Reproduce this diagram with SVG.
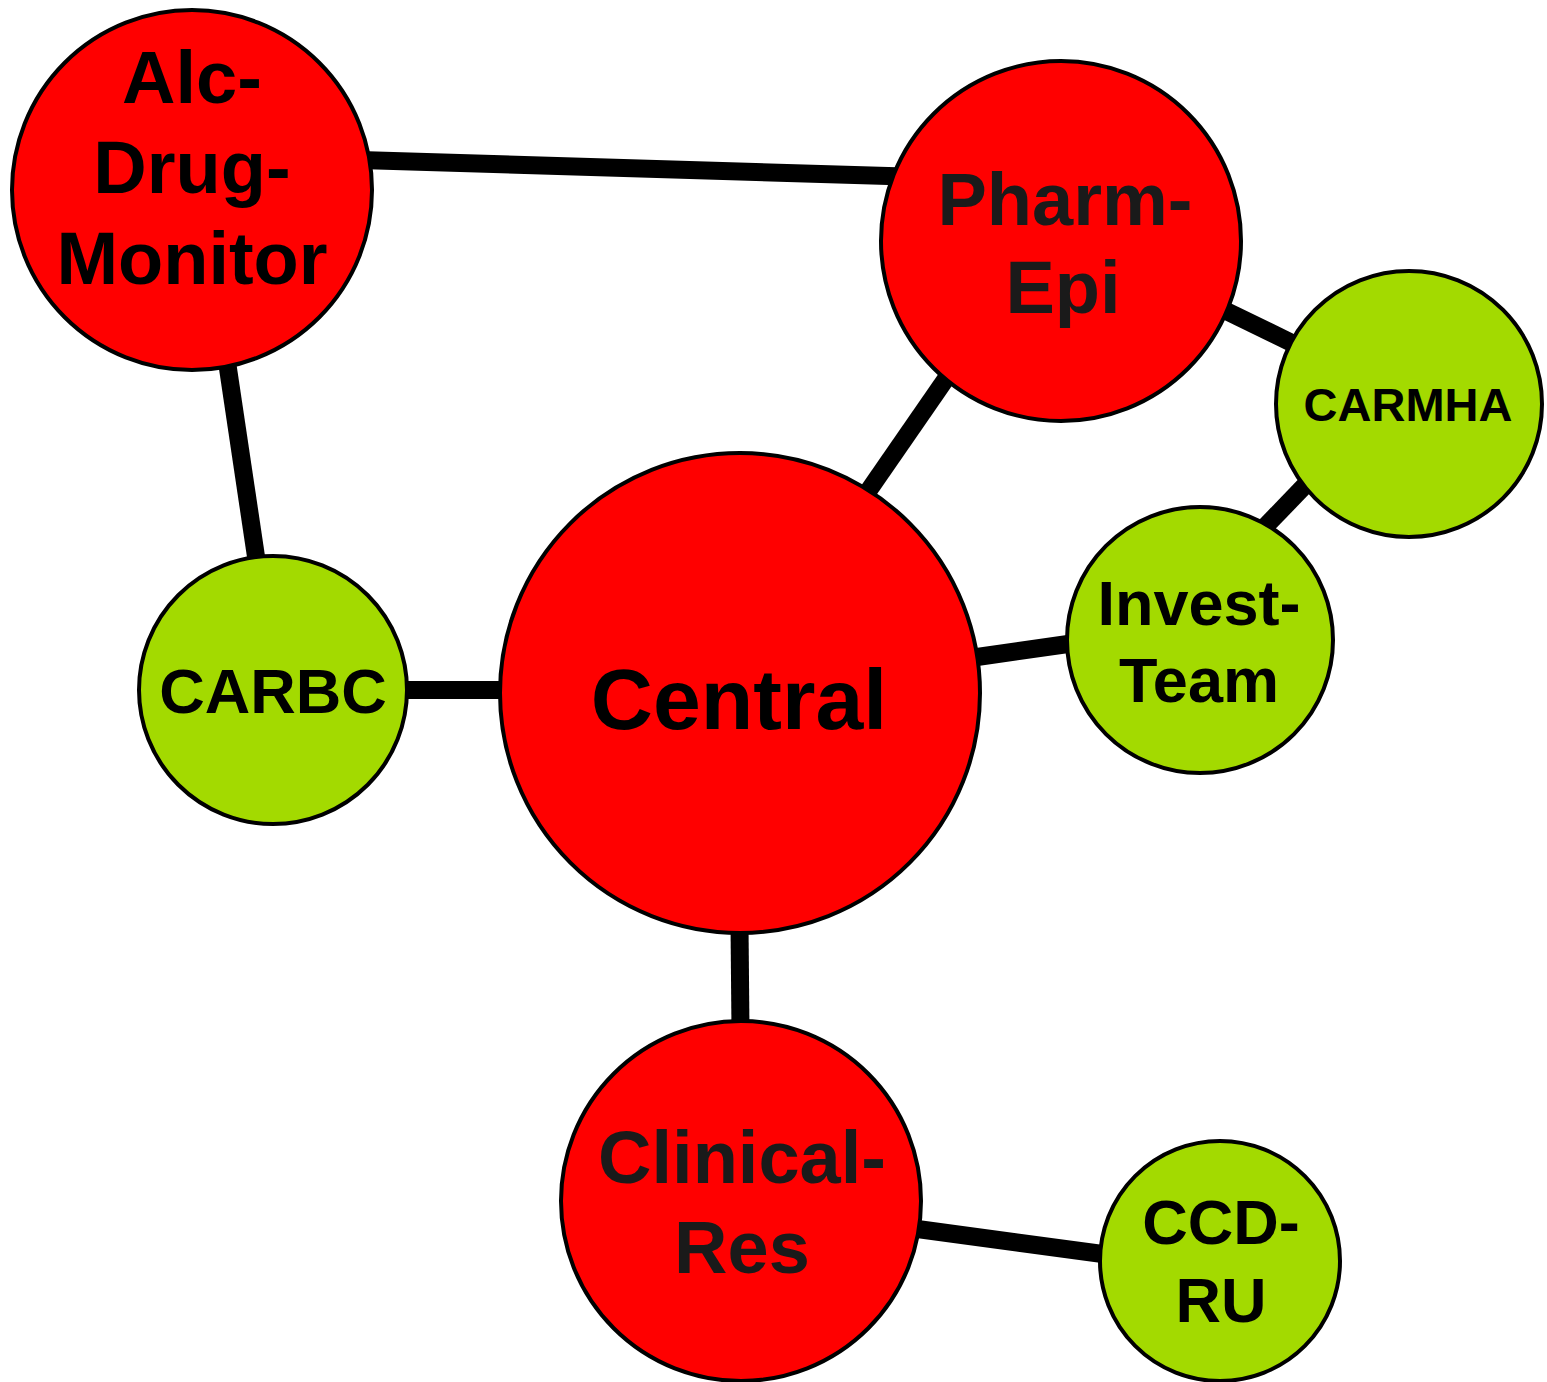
<svg xmlns="http://www.w3.org/2000/svg" width="1547" height="1382" viewBox="0 0 1547 1382">
<style>
.edge{stroke:#000;stroke-width:18;fill:none}
.red{fill:#ff0000;stroke:#000;stroke-width:4}
.green{fill:#a3da00;stroke:#000;stroke-width:4}
text{font-family:"Liberation Sans",Arial,sans-serif;font-weight:bold;text-anchor:middle}
.big{font-size:74px}
.blk{fill:#000}
.gry{fill:#1a1a1a}
.sm{font-size:63px;fill:#000}
</style>
<rect width="1547" height="1382" fill="#fff"/>
<g id="connectors">
<line class="edge" x1="360" y1="160" x2="905" y2="176.5"/>
<line class="edge" x1="226" y1="355" x2="258" y2="570"/>
<line class="edge" x1="395" y1="690" x2="510" y2="690"/>
<line class="edge" x1="860" y1="503" x2="952" y2="370"/>
<line class="edge" x1="1220" y1="308" x2="1298" y2="346"/>
<line class="edge" x1="1312" y1="478" x2="1260" y2="532"/>
<line class="edge" x1="970" y1="658" x2="1075" y2="643"/>
<line class="edge" x1="739.5" y1="925" x2="740.5" y2="1030"/>
<line class="edge" x1="910" y1="1228" x2="1110" y2="1255"/>
</g>
<g id="alc-drug-monitor">
<circle class="red" cx="192" cy="190" r="180"/>
<text class="big blk" x="192" y="103">Alc-</text>
<text class="big blk" x="192" y="193">Drug-</text>
<text class="big blk" x="192" y="284">Monitor</text>
</g>
<g id="pharm-epi">
<circle class="red" cx="1061" cy="241" r="180"/>
<text class="big gry" x="1065" y="225">Pharm-</text>
<text class="big gry" x="1063" y="313">Epi</text>
</g>
<g id="carmha">
<circle class="green" cx="1409" cy="404" r="133"/>
<text class="sm" x="1408" y="421" style="font-size:47px">CARMHA</text>
</g>
<g id="invest-team">
<circle class="green" cx="1200" cy="640" r="133"/>
<text class="sm" x="1199" y="625">Invest-</text>
<text class="sm" x="1199" y="702">Team</text>
</g>
<g id="carbc">
<circle class="green" cx="273" cy="690" r="134"/>
<text class="sm" x="273" y="713">CARBC</text>
</g>
<g id="central">
<circle class="red" cx="740" cy="693" r="240"/>
<text class="blk" x="739" y="729" style="font-size:86px">Central</text>
</g>
<g id="clinical-res">
<circle class="red" cx="741" cy="1201" r="180"/>
<text class="big gry" x="742" y="1183">Clinical-</text>
<text class="big gry" x="742" y="1273">Res</text>
</g>
<g id="ccd-ru">
<circle class="green" cx="1220" cy="1261" r="120"/>
<text class="sm" x="1221" y="1244">CCD-</text>
<text class="sm" x="1221" y="1322">RU</text>
</g>
</svg>
